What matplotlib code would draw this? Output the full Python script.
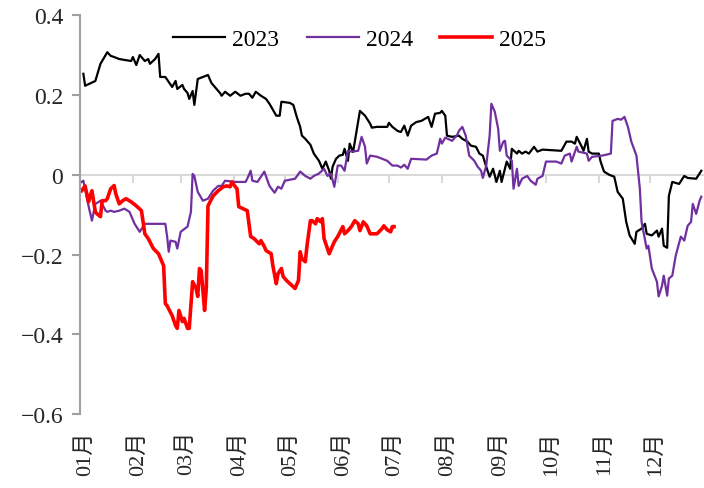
import matplotlib
matplotlib.use("Agg")
import matplotlib.pyplot as plt
import numpy as np

plt.rcParams['font.family'] = ['Liberation Serif', 'Noto Sans CJK SC']

# day of year, value
day_2023 = [2, 3, 9, 12, 16, 18, 20, 23, 30, 31, 33, 35, 38, 40, 41, 44, 46, 47, 50, 54, 56, 57, 60, 61,
            63, 64, 66, 67, 69, 72, 75, 77, 80, 82, 83, 85, 88, 91, 94, 97, 99, 101, 103, 106, 109, 111,
            115, 117, 118, 123, 125, 127, 129, 130, 132, 135, 137, 140, 142, 144, 146, 147, 148, 150, 152,
            154, 155, 157, 158, 160, 162, 164, 167, 170, 171, 174, 180, 181, 183, 186, 188, 190, 192, 194,
            197, 200, 202, 204, 206, 208, 211, 212, 214, 215, 218, 222, 224, 227, 229, 232, 234, 236, 238,
            240, 242, 244, 246, 247, 250, 252, 253, 256, 257, 259, 261, 263, 266, 268, 271, 282, 285, 288,
            290, 291, 294, 295, 297, 298, 300, 304, 305, 307, 310, 313, 315, 318, 320, 322, 325, 326, 329,
            331, 332, 335, 338, 339, 341, 342, 344, 345, 347, 351, 354, 356, 361, 363, 364]
val_2023 = [0.253, 0.223, 0.235, 0.278, 0.307, 0.298, 0.295, 0.29, 0.285, 0.295, 0.275, 0.30, 0.285, 0.29,
            0.278, 0.29, 0.303, 0.245, 0.245, 0.22, 0.235, 0.215, 0.225, 0.215, 0.205, 0.19, 0.21, 0.175,
            0.24, 0.245, 0.25, 0.23, 0.215, 0.205, 0.198, 0.208, 0.198, 0.208, 0.198, 0.203, 0.203, 0.193,
            0.208, 0.198, 0.19, 0.178, 0.148, 0.148, 0.183, 0.18, 0.175, 0.145, 0.12, 0.098, 0.09, 0.075,
            0.053, 0.035, 0.015, 0.033, 0.01, -0.01, 0.02, 0.04, 0.048, 0.05, 0.065, 0.035, 0.078, 0.057,
            0.108, 0.16, 0.148, 0.128, 0.118, 0.12, 0.12, 0.13, 0.12, 0.11, 0.107, 0.123, 0.098, 0.123,
            0.132, 0.135, 0.14, 0.145, 0.12, 0.153, 0.155, 0.16, 0.148, 0.098, 0.095, 0.098, 0.09, 0.083,
            0.073, 0.07, 0.053, 0.048, 0.02, -0.005, 0.015, -0.018, 0.01, -0.018, 0.033, 0.015, 0.065,
            0.053, 0.06, 0.053, 0.058, 0.053, 0.07, 0.058, 0.063, 0.06, 0.083, 0.083, 0.078, 0.095, 0.07,
            0.06, 0.09, 0.058, 0.053, 0.053, 0.033, 0.008, 0.0, -0.005, -0.043, -0.06, -0.118, -0.152,
            -0.173, -0.143, -0.135, -0.123, -0.148, -0.152, -0.14, -0.155, -0.135, -0.178, -0.183, -0.053,
            -0.018, -0.023, -0.003, -0.008, -0.01, 0.003, 0.01]

day_2024 = [1, 2, 5, 7, 9, 11, 12, 15, 16, 18, 20, 23, 26, 29, 32, 35, 38, 50, 51, 52, 53, 56, 57, 59, 63,
            65, 66, 67, 69, 72, 75, 78, 81, 83, 85, 91, 97, 98, 100, 101, 104, 108, 111, 114, 116, 118, 120,
            126, 129, 132, 135, 137, 140, 143, 145, 147, 149, 151, 153, 155, 157, 159, 163, 165, 167, 168,
            170, 174, 177, 180, 183, 186, 188, 190, 192, 194, 203, 206, 209, 210, 211, 212, 214, 218, 221,
            222, 224, 226, 228, 231, 233, 235, 236, 238, 240, 241, 243, 245, 246, 248, 249, 250, 253, 254,
            256, 257, 259, 262, 264, 267, 268, 271, 273, 279, 282, 284, 287, 288, 291, 292, 297, 298, 300,
            306, 311, 312, 315, 317, 319, 321, 323, 326, 328, 329, 332, 333, 335, 338, 339, 341, 342, 344,
            345, 347, 349, 352, 354, 356, 358, 359, 361, 363, 364]
val_2024 = [-0.018, -0.015, -0.078, -0.115, -0.073, -0.068, -0.065, -0.09, -0.093, -0.09, -0.093, -0.09,
            -0.085, -0.093, -0.123, -0.143, -0.123, -0.123, -0.153, -0.193, -0.165, -0.168, -0.185, -0.143,
            -0.13, -0.093, 0.002, -0.003, -0.043, -0.065, -0.06, -0.04, -0.028, -0.028, -0.015, -0.018,
            -0.018, -0.01, 0.01, -0.015, -0.018, 0.008, -0.028, -0.045, -0.03, -0.035, -0.015, -0.01, 0.008,
            -0.003, -0.01, -0.003, 0.003, 0.015, -0.003, 0.003, -0.03, 0.023, 0.023, 0.01, 0.06, 0.058, 0.06,
            0.095, 0.07, 0.028, 0.048, 0.045, 0.04, 0.035, 0.023, 0.023, 0.018, 0.025, 0.015, 0.04, 0.038,
            0.048, 0.053, 0.07, 0.09, 0.078, 0.093, 0.085, 0.1, 0.11, 0.12, 0.098, 0.048, 0.035, 0.02, 0.01,
            -0.008, 0.023, 0.098, 0.178, 0.158, 0.115, 0.06, 0.083, 0.085, 0.048, 0.035, -0.035, 0.015,
            -0.028, -0.01, -0.003, -0.015, -0.025, -0.01, -0.003, 0.033, 0.033, 0.028, 0.048, 0.053, 0.033,
            0.07, 0.058, 0.053, 0.035, 0.045, 0.048, 0.053, 0.135, 0.14, 0.138, 0.145, 0.12, 0.083, 0.048,
            -0.035, -0.118, -0.185, -0.178, -0.235, -0.268, -0.305, -0.278, -0.253, -0.303, -0.26, -0.253,
            -0.203, -0.155, -0.165, -0.128, -0.118, -0.073, -0.098, -0.065, -0.055]

day_2025 = [1, 3, 5, 6, 7, 9, 10, 12, 13, 15, 16, 18, 20, 21, 23, 25, 27, 30, 33, 36, 38, 40, 43, 46, 49,
            50, 51, 54, 56, 57, 58, 60, 61, 63, 64, 66, 68, 69, 70, 71, 73, 74, 75, 78, 81, 84, 86, 88, 89,
            91, 92, 93, 98, 100, 102, 105, 106, 108, 109, 112, 113, 115, 116, 118, 119, 121, 123, 126, 128,
            129, 130, 132, 133, 135, 136, 138, 139, 141, 142, 143, 146, 148, 149, 151, 154, 155, 157, 159,
            161, 163, 164, 166, 168, 170, 174, 177, 178, 180, 182, 183, 184]
val_2025 = [-0.04, -0.028, -0.068, -0.053, -0.04, -0.093, -0.098, -0.105, -0.065, -0.065, -0.06, -0.035,
            -0.027, -0.048, -0.073, -0.065, -0.06, -0.068, -0.078, -0.09, -0.148, -0.16, -0.185, -0.198,
            -0.228, -0.323, -0.328, -0.353, -0.378, -0.385, -0.34, -0.368, -0.36, -0.385, -0.385, -0.268,
            -0.285, -0.305, -0.235, -0.24, -0.34, -0.285, -0.078, -0.053, -0.04, -0.03, -0.028, -0.03,
            -0.018, -0.03, -0.035, -0.08, -0.09, -0.155, -0.16, -0.173, -0.165, -0.18, -0.19, -0.198, -0.228,
            -0.273, -0.248, -0.235, -0.255, -0.265, -0.273, -0.285, -0.265, -0.193, -0.21, -0.218, -0.178,
            -0.115, -0.115, -0.123, -0.11, -0.118, -0.11, -0.16, -0.198, -0.178, -0.168, -0.155, -0.13,
            -0.148, -0.14, -0.13, -0.115, -0.123, -0.14, -0.118, -0.128, -0.148, -0.148, -0.135, -0.128,
            -0.138, -0.143, -0.13, -0.13]

month_start = [0, 31, 59, 90, 120, 151, 181, 212, 243, 273, 304, 334]
month_labels = ['01月', '02月', '03月', '04月', '05月', '06月', '07月', '08月', '09月', '10月', '11月', '12月']

fig = plt.figure(figsize=(7.04, 4.89), dpi=100)
ax = fig.add_axes([0.1136, 0.151, 0.885, 0.816])

ax.plot(day_2023, val_2023, color='black', lw=1.6, label='2023')
ax.plot(day_2024, val_2024, color='#7030A0', lw=1.6, label='2024')
ax.plot(day_2025, val_2025, color='#FF0000', lw=2.6, label='2025')

ax.set_xlim(0, 365)
ax.set_ylim(-0.6, 0.4)
ax.set_yticks([-0.6, -0.4, -0.2, 0, 0.2, 0.4])
ax.set_yticklabels(['\u22120.6', '\u22120.4', '\u22120.2', '0', '0.2', '0.4'])

for s in ['top', 'right']:
    ax.spines[s].set_visible(False)
ax.spines['left'].set_color('#a0a0a0')
ax.spines['left'].set_linewidth(1.5)
ax.spines['bottom'].set_position(('data', 0))
ax.spines['bottom'].set_color('#d9d9d9')
ax.spines['bottom'].set_linewidth(1.5)
ax.spines['bottom'].set_zorder(0)

ax.tick_params(axis='y', direction='out', length=6, width=1.5, color='#a0a0a0',
               labelsize=17, labelcolor='#262626', pad=6)
ax.set_xticks(month_start)
ax.set_xticklabels([])
ax.tick_params(axis='x', direction='out', length=6, width=1.5, color='#d9d9d9')

trans = ax.get_xaxis_transform()
for d, lab in zip(month_start, month_labels):
    ax.text(d + 3, -0.04, lab, transform=trans, rotation=90, ha='center', va='top',
            fontsize=16, color='#262626')

leg = ax.legend(loc='center', bbox_to_anchor=(0.449, 0.94), ncol=3, frameon=False,
                fontsize=17, handlelength=2.2, columnspacing=1.15, handletextpad=0.3)

fig.savefig('out.png', dpi=100)
